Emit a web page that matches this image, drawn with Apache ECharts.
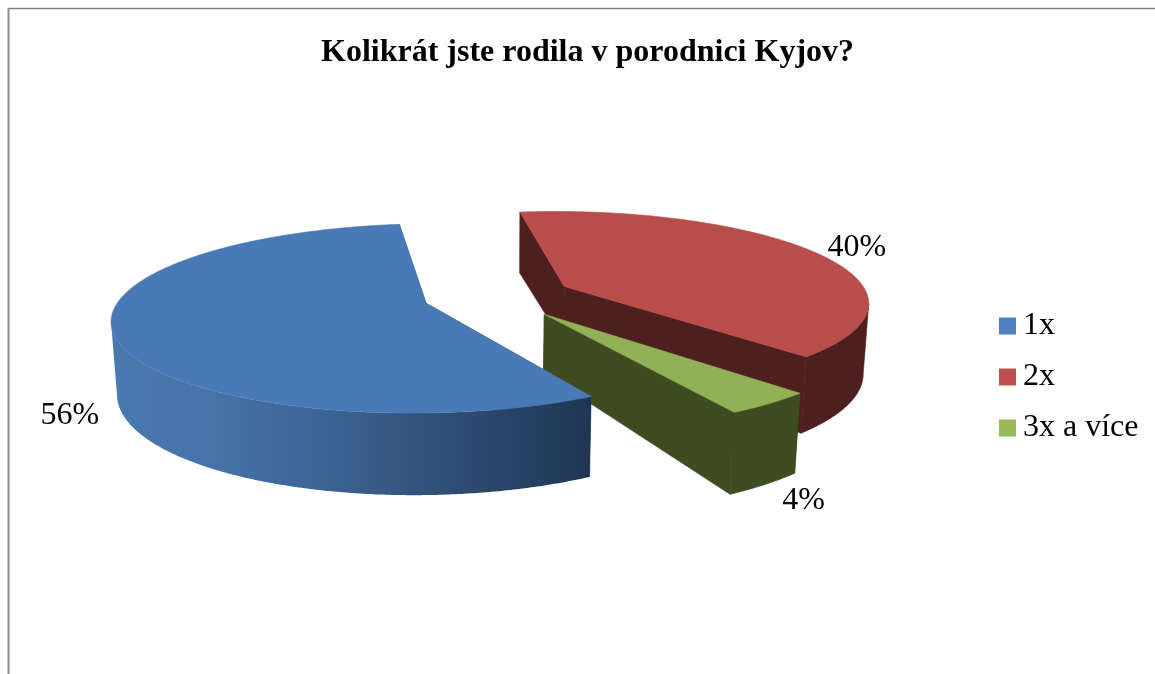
<!DOCTYPE html>
<html>
<head>
<meta charset="utf-8">
<style>html,body{margin:0;padding:0;background:#fff}#chart{width:1155px;height:674px}</style>
<script src="https://cdn.jsdelivr.net/npm/echarts@6/dist/echarts.min.js"></script>
</head>
<body>
<div id="chart"></div>
<script>
// Survey answers, in percent
const categories = ['1x', '2x', '3x a více'];
const shares = [56, 40, 4];
const chartTitle = 'Kolikrát jste rodila v porodnici Kyjov?';

const topColors = ['#4a7ab5', '#b94d4a', '#92b055'];
const wallColors = ['#2f4d74', '#4e1f1f', '#3f4b20'];
const legendColors = ['#4f81bd', '#c0504d', '#9bbb59'];
const radii = [305, 304, 307];
const labelOffsets = [[-44, 81], [45, -3], [34, 97]];

// Tilted disc: the view parameters of the 3D pie
const FONT = '"Liberation Serif","Times New Roman",serif';
const disc = { cx: 498, cy: 296, explode: 75, rimHeight: 71, apexHeight: 58, tilt: 0.295, persp: 0.00052, shrink: 0.015, firstAngle: 150.5 };

function project(x, z, h) {
  const w = 1 - z * disc.persp + (h ? disc.shrink : 0);
  return [disc.cx + x / w, disc.cy + (z * disc.tilt + h) / w];
}
function polar(angle, r) {
  const t = angle * Math.PI / 180;
  return [r * Math.sin(t), -r * Math.cos(t)];
}

// Section of an arc facing the viewer: from its right extreme to the next left extreme
function frontSpan(pts) {
  let from = 0;
  pts.forEach((p, i) => { if (p[0] > pts[from][0]) from = i; });
  let to = from;
  for (let i = from; i < pts.length; i++) if (pts[i][0] < pts[to][0]) to = i;
  return pts.slice(from, to + 1);
}

const total = shares.reduce((a, b) => a + b, 0);

function sliceRenderer(index) {
  return function (params, api) {
    const value = api.value(0);
    const before = shares.slice(0, index).reduce((a, b) => a + b, 0);
    const start = disc.firstAngle + before / total * 360;
    const sweep = value / total * 360;
    const mid = start + sweep / 2;
    const [ox, oz] = polar(mid, disc.explode);

    const point = (angle, r, h) => {
      const [x, z] = polar(angle, r);
      return project(x + ox, z + oz, h);
    };
    const arc = (h) => {
      const pts = [];
      const n = Math.max(4, Math.ceil(sweep * 2));
      for (let i = 0; i <= n; i++) pts.push(point(start + sweep * i / n, radii[index], h));
      return pts;
    };
    const topArc = arc(0);
    const bottomArc = arc(disc.rimHeight);
    const apexTop = point(0, 0, 0);
    const apexBottom = point(0, 0, disc.apexHeight);

    const wallFill = index === 0 ? {
      type: 'linear', global: true, x: 116, y: 0, x2: 590, y2: 0,
      colorStops: [
        { offset: 0, color: '#4a78b0' },
        { offset: 0.2, color: '#4673a9' },
        { offset: 0.5, color: '#3b5f8c' },
        { offset: 0.75, color: '#2c4a70' },
        { offset: 1, color: '#1f3653' }
      ]
    } : wallColors[index];

    const poly = (points, fill, edge) => ({
      type: 'polygon',
      shape: { points },
      style: { fill, stroke: edge || null, lineWidth: edge ? 0.6 : 0 }
    });

    const last = topArc.length - 1;
    const rim = frontSpan(topArc).concat(frontSpan(bottomArc).reverse());
    const anchor = point(mid, radii[index], 0);
    const off = labelOffsets[index];

    return {
      type: 'group',
      children: [
        poly([apexTop, topArc[0], bottomArc[0], apexBottom], wallColors[index], wallColors[index]),
        poly([apexTop, topArc[last], bottomArc[last], apexBottom], wallColors[index], wallColors[index]),
        poly(rim, wallFill, index === 0 ? null : wallColors[index]),
        poly([apexTop].concat(topArc), topColors[index], topColors[index]),
        {
          type: 'text',
          style: {
            x: anchor[0] + off[0], y: anchor[1] + off[1],
            text: value + '%',
            fill: '#000', font: '32px ' + FONT,
            align: 'center', verticalAlign: 'middle'
          }
        }
      ]
    };
  };
}

// Paint order: red, green, then blue over both
const paintOrder = [3, 1, 2];
const chart = echarts.init(document.getElementById('chart'), null, { renderer: 'canvas' });
chart.setOption({
  animation: false,
  backgroundColor: '#fff',
  title: {
    text: chartTitle, left: 316, top: 32,
    textStyle: { fontFamily: FONT, fontWeight: 'bold', fontSize: 32, color: '#000' }
  },
  legend: {
    orient: 'vertical', left: 994, top: 305,
    data: categories.map((name) => ({ name, icon: 'rect' })),
    itemWidth: 17, itemHeight: 17, itemGap: 19,
    selectedMode: false,
    textStyle: { fontFamily: FONT, fontSize: 32, color: '#000', padding: [0, 0, 0, 2] }
  },
  series: categories.map((name, i) => ({
    type: 'custom',
    name,
    coordinateSystem: 'none',
    silent: true,
    z: paintOrder[i],
    itemStyle: { color: legendColors[i] },
    data: [[shares[i]]],
    renderItem: sliceRenderer(i)
  })),
  graphic: [
    { type: 'line', shape: { x1: 8, y1: 8.5, x2: 1155, y2: 8.5 }, style: { stroke: '#7f7f7f', lineWidth: 1.5 } },
    { type: 'line', shape: { x1: 8.5, y1: 8, x2: 8.5, y2: 674 }, style: { stroke: '#8a8a8a', lineWidth: 2 } }
  ]
});
</script>
</body>
</html>
